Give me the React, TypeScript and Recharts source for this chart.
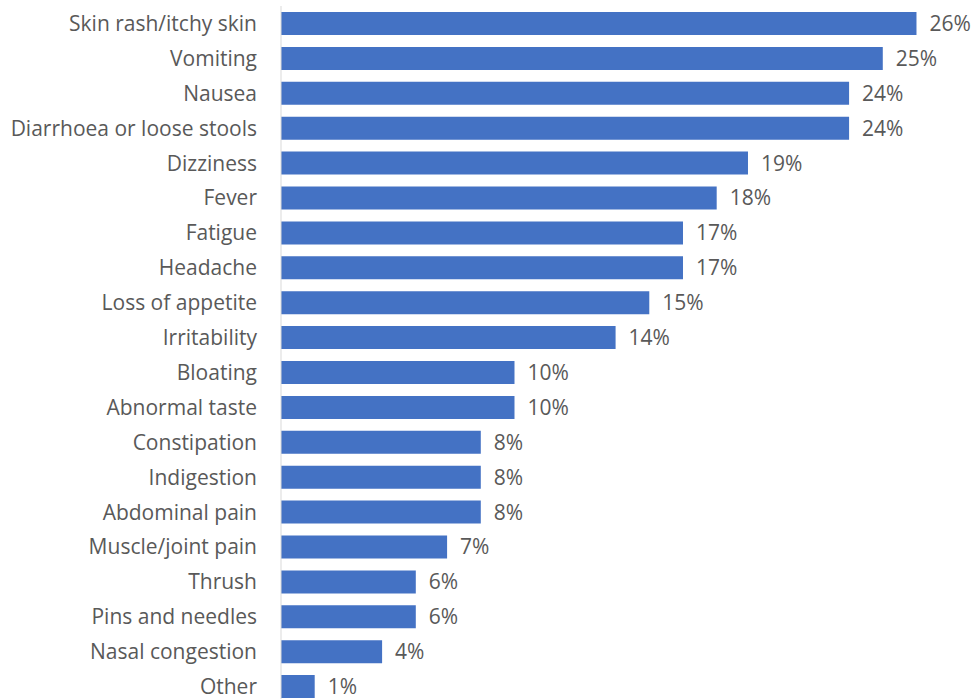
import { BarChart, Bar, XAxis, YAxis, LabelList } from 'recharts';

// categories, top to bottom
const symptoms = [
  'Skin rash/itchy skin',
  'Vomiting',
  'Nausea',
  'Diarrhoea or loose stools',
  'Dizziness',
  'Fever',
  'Fatigue',
  'Headache',
  'Loss of appetite',
  'Irritability',
  'Bloating',
  'Abnormal taste',
  'Constipation',
  'Indigestion',
  'Abdominal pain',
  'Muscle/joint pain',
  'Thrush',
  'Pins and needles',
  'Nasal congestion',
  'Other',
];

// share of respondents (%)
const shares = [26.4, 25, 23.6, 23.6, 19.4, 18.1, 16.7, 16.7, 15.3, 13.9, 9.7, 9.7, 8.3, 8.3, 8.3, 6.9, 5.6, 5.6, 4.2, 1.4];

// printed labels
const shareLabels = ['26%', '25%', '24%', '24%', '19%', '18%', '17%', '17%', '15%', '14%', '10%', '10%', '8%', '8%', '8%', '7%', '6%', '6%', '4%', '1%'];

const data = symptoms.map((name, i) => ({ name, value: shares[i], label: shareLabels[i] }));

const font = '"Open Sans", sans-serif';
const textColor = '#595959';

export default function App() {
  return (
    <div style={{ position: 'fixed', left: 0, top: 0, width: 973, height: 699, overflow: 'hidden', background: '#fff' }}>
      <BarChart
        width={973}
        height={706}
        data={data}
        layout="vertical"
        margin={{ top: 6, right: 18, bottom: 2, left: 0 }}
        barCategoryGap={12}
      >
        <XAxis type="number" domain={[0, 28]} hide />
        <YAxis
          type="category"
          dataKey="name"
          width={281}
          axisLine={{ stroke: '#d9d9d9', strokeWidth: 1 }}
          tickLine={false}
          tickSize={0}
          tickMargin={24}
          interval={0}
          tick={{ fill: textColor, fontSize: 21, fontFamily: font }}
        />
        <Bar dataKey="value" fill="#4472c4" barSize={23} isAnimationActive={false}>
          <LabelList
            dataKey="label"
            position="right"
            offset={13}
            style={{ fill: textColor, fontSize: 21, fontFamily: font }}
          />
        </Bar>
      </BarChart>
    </div>
  );
}
